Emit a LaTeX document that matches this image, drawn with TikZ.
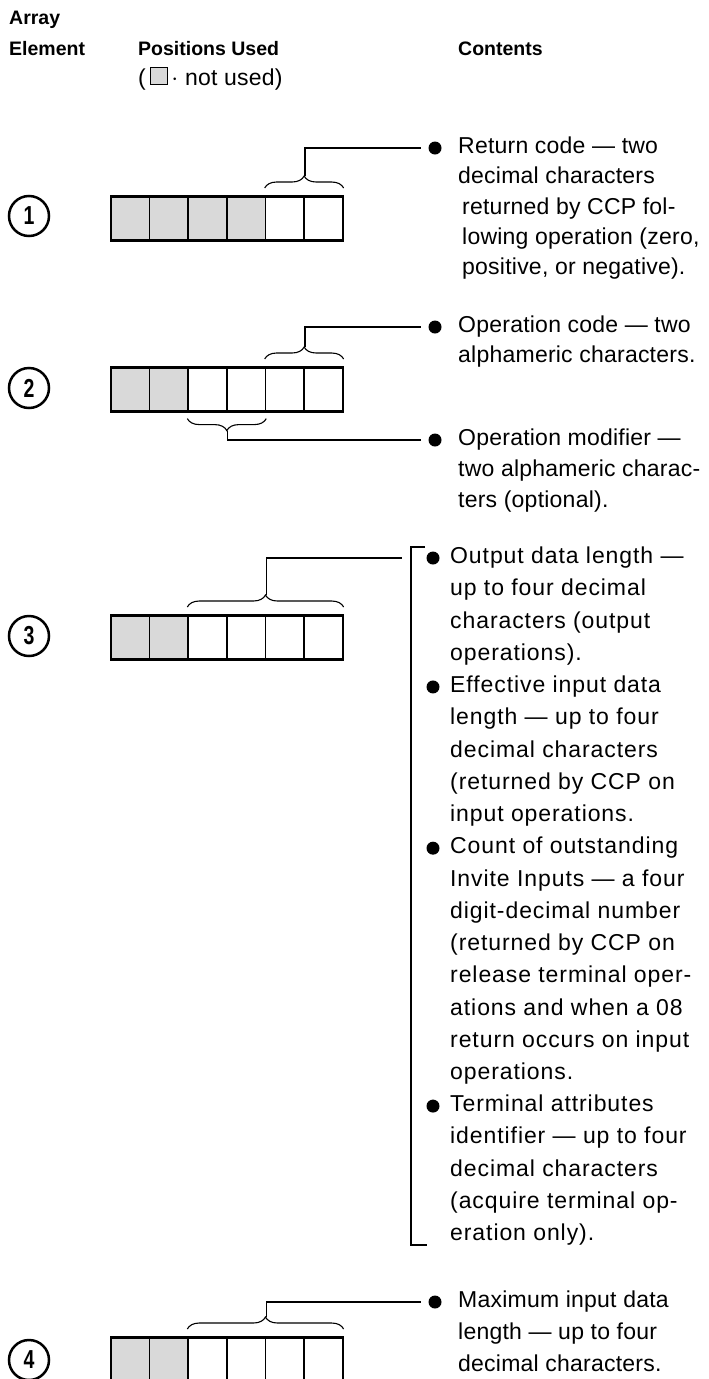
\documentclass[tikz,border=0pt]{standalone}
\usepackage{fontspec}
\setmainfont{Liberation Sans}
\newfontfamily\fA{Liberation Sans}[LetterSpace=1]
\newfontfamily\fB{Liberation Sans}[LetterSpace=4]
\usetikzlibrary{decorations.pathreplacing,calc}
\newcommand\cellrow[4]{% prefix, y top, number unused, height
  \foreach \i in {1,...,6}{%
    \ifnum\i>#3\relax
      \node[cell,minimum height=#4] (#1c\i) at ({110+(\i-1)*38.67},#2) {};
    \else
      \node[cell,fill=black!15,minimum height=#4] (#1c\i) at ({110+(\i-1)*38.67},#2) {};
    \fi
  }%
  \draw[line width=2.8pt] (#1c1.north west) -- (#1c6.north east);
}
\begin{document}
\begin{tikzpicture}[x=1pt,y=-1pt,
  txt/.style={anchor=mid west, inner sep=0pt, yshift=-3pt, font=\fontsize{23}{27}\selectfont\fA},
  txtb/.style={txt, font=\fontsize{23}{27}\selectfont\fB},
  hdr/.style={anchor=mid west, inner sep=0pt, yshift=-3pt, font=\fontsize{19.5}{24}\selectfont\bfseries},
  cell/.style={draw, line width=1.6pt, minimum width=38.67pt, inner sep=0pt, anchor=north west},
  num/.style={circle, draw, line width=2.5pt, minimum size=40pt, inner sep=0pt, font=\fontsize{26}{26}\selectfont\bfseries},
  bul/.style={circle, fill=black, minimum size=13pt, inner sep=0pt},
  lnk/.style={line width=1.4pt},
  brc/.style={line width=1.1pt, decorate, decoration={brace, amplitude=12pt}},
]
\useasboundingbox (0,0) rectangle (709,1379);

% header
\node[hdr] (hArr) at (9,19) {Array};
\node[hdr] (hEl) at (9,50) {Element};
\node[hdr] (hPos) at (138,50) {Positions Used};
\node[hdr] (hCon) at (458,50) {Contents};
\node[txt] (hNot) at (138,80) {(\hspace{4pt}\tikz[baseline=-1pt]\draw[line width=0.8pt,fill=black!15] (0,0) rectangle (17pt,17pt);\,$\cdot$ not used)};

% ---------- element 1
\node[num] (n1) at (29,216) {\scalebox{0.75}[1]{1}};
\cellrow{a}{196}{4}{43pt}
\draw[line width=2.8pt] (ac1.south west) -- (ac6.south east);
\draw[brc] ($(ac5.north west)+(0,-8)$) -- ($(ac6.north east)+(0,-8)$);
\coordinate (a1tip) at ($(ac5.north east)+(0,-20)$);
\coordinate (a1end) at (421,148);
\draw[lnk] (a1tip) |- (a1end);
\node[bul] (a1b) at (435,148) {};
\node[txt] (a1t1) at (458,148) {Return code — two};
\node[txt] (a1t2) at (458,178) {decimal characters};
\node[txt] (a1t3) at (462,209) {returned by CCP fol-};
\node[txt] (a1t4) at (462,239) {lowing operation (zero,};
\node[txt] (a1t5) at (462,269) {positive, or negative).};

% ---------- element 2
\node[num] (n2) at (29,388) {\scalebox{0.75}[1]{2}};
\cellrow{b}{367}{2}{43pt}
\draw[line width=2.8pt] (bc1.south west) -- (bc6.south east);
\draw[brc] ($(bc5.north west)+(0,-8)$) -- ($(bc6.north east)+(0,-8)$);
\coordinate (b1tip) at ($(bc5.north east)+(0,-20)$);
\coordinate (b1end) at (421,327);
\draw[lnk] (b1tip) |- (b1end);
\node[bul] (b1b) at (435,327) {};
\node[txt] (b1t1) at (458,327) {Operation code — two};
\node[txt] (b1t2) at (458,357) {alphameric characters.};
\draw[brc] ($(bc4.south east)+(0,7)$) -- ($(bc3.south west)+(0,7)$);
\coordinate (b2tip) at ($(bc3.south east)+(0,19)$);
\coordinate (b2end) at (421,440);
\draw[lnk] (b2tip) |- (b2end);
\node[bul] (b2b) at (435,440) {};
\node[txt] (b2t1) at (458,440) {Operation modifier —};
\node[txt] (b2t2) at (458,471) {two alphameric charac-};
\node[txt] (b2t3) at (458,502) {ters (optional).};

% ---------- element 3
\node[num] (n3) at (29,636) {\scalebox{0.75}[1]{3}};
\cellrow{c}{615}{2}{43pt}
\draw[line width=2.8pt] (cc1.south west) -- (cc6.south east);
\draw[brc] ($(cc3.north west)+(0,-8)$) -- ($(cc6.north east)+(0,-8)$);
\coordinate (c1tip) at ($(cc4.north east)+(0,-20)$);
\coordinate (c1end) at (402,558);
\draw[lnk] (c1tip) |- (c1end);
\coordinate (brT) at (425,547);
\coordinate (brB) at (427,1245);
\draw[lnk] (brT) -| (411,1245) -- (brB);
\foreach \k/\t in {0/Output data length —,1/up to four decimal,2/characters (output,3/operations).,
  4/Effective input data,5/length — up to four,6/decimal characters,7/(returned by CCP on,8/input operations.,
  9/Count of outstanding,10/Invite Inputs — a four,11/digit-decimal number,12/(returned by CCP on,
  13/release terminal oper-,14/ations and when a 08,15/return occurs on input,16/operations.,
  17/Terminal attributes,18/identifier — up to four,19/decimal characters,20/(acquire terminal op-,21/eration only).}
  {\node[txtb] (c3t\k) at (450,{558+32.24*\k}) {\t};}
\foreach \k in {0,4,9,17}{\node[bul] (c3b\k) at (433,{558+32.24*\k}) {};}

% ---------- element 4
\node[num] (n4) at (29,1360) {\scalebox{0.75}[1]{4}};
\cellrow{d}{1337}{2}{70pt}
\draw[brc] ($(dc3.north west)+(0,-8)$) -- ($(dc6.north east)+(0,-8)$);
\coordinate (d1tip) at ($(dc4.north east)+(0,-20)$);
\coordinate (d1end) at (421,1302);
\draw[lnk] (d1tip) |- (d1end);
\node[bul] (d1b) at (435,1302) {};
\node[txt] (d1t1) at (458,1302) {Maximum input data};
\node[txt] (d1t2) at (458,1334) {length — up to four};
\node[txt] (d1t3) at (458,1366) {decimal characters.};
\end{tikzpicture}
\end{document}
